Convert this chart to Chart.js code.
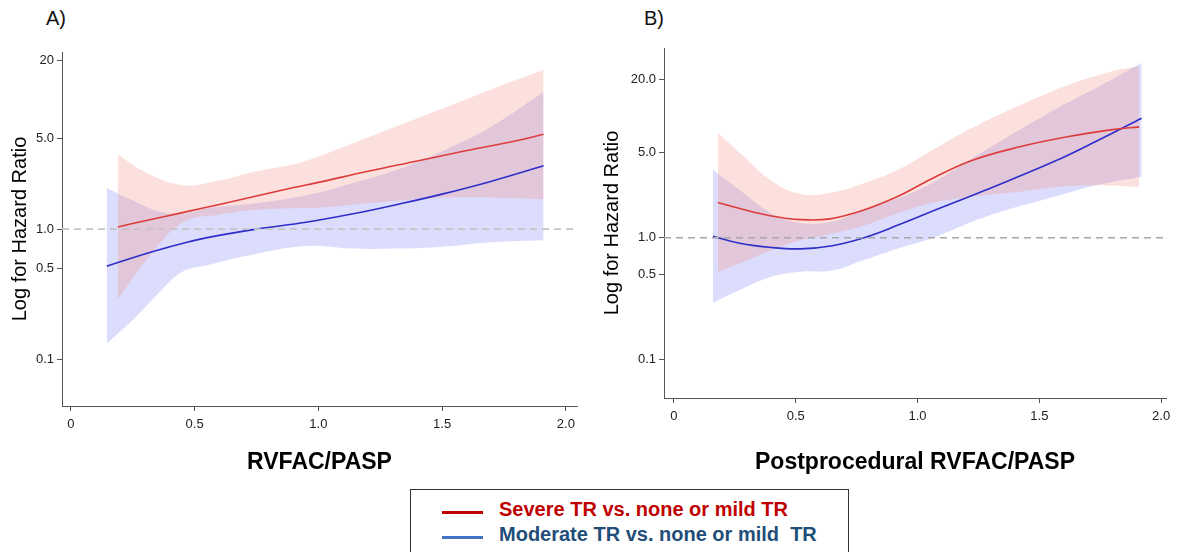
<!DOCTYPE html>
<html>
<head>
<meta charset="utf-8">
<script src="https://cdn.jsdelivr.net/npm/chart.js@4.4.1/dist/chart.umd.min.js"></script>
<style>
  body { margin: 0; background: #fff; width: 1178px; height: 552px; overflow: hidden; position: relative;
         font-family: "Liberation Sans", Arial, sans-serif; }
  .panel { position: absolute; top: 0; }
  .tag { position: absolute; top: 8px; font-size: 20px; line-height: 20px; color: #111; }
  #legend { position: absolute; left: 410px; top: 489px; width: 439px; height: 80px;
            border: 1px solid #333; box-sizing: border-box; }
  .swatch { position: absolute; left: 31px; width: 41px; height: 3px; }
  .lbl { position: absolute; left: 88px; font-weight: bold; font-size: 20px; line-height: 20px; white-space: pre; }
</style>
</head>
<body>
<div class="tag" style="left:46px">A)</div>
<div class="tag" style="left:644px">B)</div>
<canvas id="chartA" class="panel" style="left:0px" width="590" height="480"></canvas>
<canvas id="chartB" class="panel" style="left:590px" width="588" height="480"></canvas>
<div id="legend">
  <div class="swatch" style="top:21px;background:#c00000"></div>
  <div class="lbl" style="top:9px;color:#c00000">Severe TR vs. none or mild TR</div>
  <div class="swatch" style="top:46px;background:#4472c4"></div>
  <div class="lbl" style="top:34px;color:#1f4e79">Moderate TR vs. none or mild  TR</div>
</div>
<script>
// axis ticks
const X_TICKS = [0, 0.5, 1, 1.5, 2];
const X_TICK_LABELS = ["0", "0.5", "1.0", "1.5", "2.0"];
const Y_TICKS = [0.1, 0.5, 1, 5, 20];
const Y_LABELS_A = ["0.1", "0.5", "1.0", "5.0", "20"];
const Y_LABELS_B = ["0.1", "0.5", "1.0", "5.0", "20.0"];
const REF_HR = 1;

// Panel A - RVFAC/PASP (hazard ratios)
const A_SEV_X  = [0.19, 0.3, 0.45, 0.6, 0.75, 0.9, 1.0, 1.2, 1.4, 1.6, 1.8, 1.91];
const A_SEV_HR = [1.04, 1.16, 1.34, 1.55, 1.80, 2.09, 2.29, 2.79, 3.35, 4.03, 4.79, 5.38];
const A_SEV_UP = [3.76, 2.75, 2.18, 2.37, 2.79, 3.16, 3.63, 5.08, 7.14, 10.05, 14.1, 16.9];
const A_SEV_LO = [0.288, 0.562, 1.12, 1.29, 1.41, 1.45, 1.46, 1.58, 1.70, 1.76, 1.72, 1.69];

const A_MOD_X  = [0.145, 0.25, 0.35, 0.45, 0.55, 0.75, 0.95, 1.13, 1.32, 1.5, 1.7, 1.91];
const A_MOD_HR = [0.519, 0.603, 0.689, 0.776, 0.86, 1.0, 1.13, 1.30, 1.55, 1.86, 2.34, 3.07];
const A_MOD_UP = [2.06, 1.66, 1.38, 1.32, 1.45, 1.58, 1.82, 2.24, 2.88, 3.98, 6.17, 11.4];
const A_MOD_LO = [0.132, 0.200, 0.316, 0.47, 0.528, 0.646, 0.741, 0.710, 0.708, 0.733, 0.794, 0.822];

// Panel B - Postprocedural RVFAC/PASP
const B_SEV_X  = [0.18, 0.27, 0.4, 0.52, 0.64, 0.78, 0.92, 1.05, 1.22, 1.42, 1.62, 1.8, 1.91];
const B_SEV_HR = [1.95, 1.74, 1.51, 1.41, 1.43, 1.69, 2.19, 3.0, 4.3, 5.6, 6.8, 7.75, 8.17];
const B_SEV_UP = [7.31, 5.01, 2.95, 2.29, 2.34, 2.81, 3.63, 5.11, 7.94, 12.3, 18.1, 23.4, 25.7];
const B_SEV_LO = [0.525, 0.615, 0.794, 0.955, 1.07, 1.26, 1.59, 1.91, 2.17, 2.39, 2.66, 2.69, 2.60];

const B_MOD_X  = [0.16, 0.27, 0.4, 0.52, 0.65, 0.78, 0.92, 1.05, 1.28, 1.56, 1.75, 1.92];
const B_MOD_HR = [1.03, 0.90, 0.83, 0.81, 0.86, 1.0, 1.27, 1.62, 2.47, 4.23, 6.46, 9.62];
const B_MOD_UP = [3.61, 2.47, 1.59, 1.32, 1.36, 1.69, 2.11, 2.75, 5.27, 11.25, 17.8, 27.5];
const B_MOD_LO = [0.292, 0.372, 0.478, 0.525, 0.537, 0.655, 0.817, 0.977, 1.49, 2.17, 2.75, 3.18];

const RED = "#dc3c3c";
const BLUE = "#2e2ec8";
const RED_BAND = "rgba(242,156,146,0.31)";
const BLUE_BAND = "rgba(110,110,245,0.24)";

Chart.defaults.font.family = '"Liberation Sans", Arial, sans-serif';

function pts(xs, ys) {
  return xs.map((x, i) => ({ x: x, y: ys[i] }));
}

function lineSet(data, color) {
  return { data: data, borderColor: color, borderWidth: 1.6, pointRadius: 0, fill: false, tension: 0.4 };
}

function bandSet(data, fillColor, fill) {
  return { data: data, borderWidth: 0, borderColor: "rgba(0,0,0,0)", backgroundColor: fillColor,
           pointRadius: 0, fill: fill, tension: 0.4 };
}

// one panel: severe + moderate curves with confidence bands on a log axis
function makePanel(id, p) {
  const ctx = document.getElementById(id).getContext("2d");
  return new Chart(ctx, {
    type: "line",
    data: {
      datasets: [
        { data: [{ x: p.xMin, y: REF_HR }, { x: p.xMax, y: REF_HR }], borderColor: p.refColor,
          borderWidth: 1.6, borderDash: [7, 5], pointRadius: 0, fill: false },
        lineSet(pts(p.sevX, p.sevHR), RED),
        lineSet(pts(p.modX, p.modHR), BLUE),
        bandSet(pts(p.sevX, p.sevUp), RED_BAND, "+1"),
        bandSet(pts(p.sevX, p.sevLo), RED_BAND, false),
        bandSet(pts(p.modX, p.modUp), BLUE_BAND, "+1"),
        bandSet(pts(p.modX, p.modLo), BLUE_BAND, false)
      ]
    },
    options: {
      responsive: false,
      animation: false,
      devicePixelRatio: 1,
      layout: { padding: { top: p.top, right: p.right, left: 0, bottom: 0 } },
      plugins: { legend: { display: false }, tooltip: { enabled: false } },
      scales: {
        x: {
          type: "linear",
          min: p.xMin,
          max: p.xMax,
          afterBuildTicks: s => { s.ticks = X_TICKS.map(v => ({ value: v })); },
          afterFit: s => { s.height = p.xAxisH; },
          ticks: { callback: (v, i) => X_TICK_LABELS[i], color: "#222", font: { size: 13 },
                   padding: 6, maxRotation: 0, autoSkip: false },
          grid: { drawOnChartArea: false, drawTicks: true, tickLength: 5, color: "#555" },
          border: { color: "#555", width: 1 },
          title: { display: true, text: p.xTitle, color: "#000",
                   font: { size: 23, weight: "bold" }, padding: { top: 0, bottom: 4 } }
        },
        y: {
          type: "logarithmic",
          min: p.yMin,
          max: p.yMax,
          afterBuildTicks: s => { s.ticks = Y_TICKS.map(v => ({ value: v })); },
          afterFit: s => { s.width = p.yAxisW; },
          ticks: { callback: (v, i) => p.yLabels[i], color: "#222", font: { size: 13 },
                   padding: 3, autoSkip: false },
          grid: { drawOnChartArea: false, drawTicks: true, tickLength: 5, color: "#555" },
          border: { color: "#555", width: 1 },
          title: { display: true, text: "Log for Hazard Ratio", color: "#000",
                   font: { size: 20 }, padding: { top: p.yTitlePad, bottom: 0 } }
        }
      }
    }
  });
}

makePanel("chartA", {
  sevX: A_SEV_X, sevHR: A_SEV_HR, sevUp: A_SEV_UP, sevLo: A_SEV_LO,
  modX: A_MOD_X, modHR: A_MOD_HR, modUp: A_MOD_UP, modLo: A_MOD_LO,
  xMin: -0.036, xMax: 2.045, yMin: 0.0435, yMax: 23.1,
  yLabels: Y_LABELS_A, xTitle: "RVFAC/PASP", refColor: "#c4c4c4",
  top: 52, right: 13, xAxisH: 74, yAxisW: 62, yTitlePad: 8
});

makePanel("chartB", {
  sevX: B_SEV_X, sevHR: B_SEV_HR, sevUp: B_SEV_UP, sevLo: B_SEV_LO,
  modX: B_MOD_X, modHR: B_MOD_HR, modUp: B_MOD_UP, modLo: B_MOD_LO,
  xMin: -0.041, xMax: 2.02, yMin: 0.048, yMax: 36.4,
  yLabels: Y_LABELS_B, xTitle: "Postprocedural RVFAC/PASP", refColor: "#a8a8a8",
  top: 48, right: 12, xAxisH: 82, yAxisW: 74, yTitlePad: 10
});
</script>
</body>
</html>
